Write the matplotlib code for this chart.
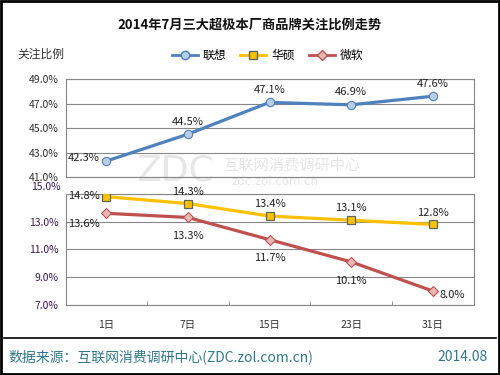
import matplotlib
matplotlib.use("Agg")
import matplotlib.pyplot as plt
from matplotlib.lines import Line2D
from matplotlib.patches import Rectangle

plt.rcParams['font.family'] = ['Noto Sans CJK SC', 'DejaVu Sans']

days = ["1日", "7日", "15日", "23日", "31日"]
lenovo = [42.3, 44.5, 47.1, 46.9, 47.6]
asus = [14.8, 14.3, 13.4, 13.1, 12.8]
microsoft = [13.6, 13.3, 11.7, 10.1, 8.0]
top_ticks = [41, 43, 45, 47, 49]
bottom_ticks = [7, 9, 11, 13, 15]

fig = plt.figure(figsize=(5, 3.75), dpi=100)
fig.patches.append(Rectangle((0.002, 0.003), 0.996, 0.994, transform=fig.transFigure,
                             fill=False, edgecolor='black', linewidth=2))

x = list(range(len(days)))
grid_c = '#868686'
txt_c = '#222222'

ax1 = fig.add_axes([0.131, 0.528, 0.816, 0.261])
ax2 = fig.add_axes([0.131, 0.187, 0.816, 0.296])

for ax, ticks in ((ax1, top_ticks), (ax2, bottom_ticks)):
    ax.set_facecolor('none')
    ax.set_xlim(-0.5, 4.5)
    ax.set_ylim(ticks[0], ticks[-1])
    ax.set_yticks(ticks)
    ax.set_yticklabels([f"{t:.1f}%" for t in ticks])
    ax.tick_params(axis='y', length=0, labelsize=7.5, pad=5)
    for t in ticks:
        ax.axhline(t, color=grid_c, linewidth=0.8, zorder=0)
    for s in ax.spines.values():
        s.set_color(grid_c)
        s.set_linewidth(0.8)

ax1.set_xticks([])
for lab in ax1.get_yticklabels():
    lab.set_color('#333333')

# 15.0% label sits a little higher than its gridline, as in the source
labels2 = [f"{t:.1f}%" for t in bottom_ticks]
labels2[-1] = ""
ax2.set_yticklabels(labels2)
for lab in ax2.get_yticklabels():
    lab.set_color('#3b1d4f')
ax2.annotate(f"{bottom_ticks[-1]:.1f}%", xy=(0, bottom_ticks[-1]),
             xycoords=('axes fraction', 'data'), xytext=(-3.6, 4.6),
             textcoords='offset points', ha='right', va='center', fontsize=7.5,
             color='#3b1d4f')

ax2.set_xticks([i + 0.5 for i in range(4)], minor=True)
ax2.set_xticks(x)
ax2.set_xticklabels(days, fontsize=7.5, color='#333333')
ax2.tick_params(axis='x', which='major', length=0, pad=11)
ax2.tick_params(axis='x', which='minor', length=3, direction='in', color=grid_c)

ax1.plot(x, lenovo, color='#4f81bd', linewidth=2.3, marker='o', markersize=6,
         markerfacecolor='#b9cde5', markeredgecolor='#4f81bd', markeredgewidth=0.8, zorder=3)
ax2.plot(x, asus, color='#ffc000', linewidth=2.3, marker='s', markersize=5.5,
         markerfacecolor='#ffc000', markeredgecolor='#5a6a5a', markeredgewidth=0.9, zorder=3)
ax2.plot(x, microsoft, color='#c0504d', linewidth=2.3, marker='D', markersize=5.5,
         markerfacecolor='#e6b9b8', markeredgecolor='#c0504d', markeredgewidth=0.8, zorder=3)

fs = 8
for i, v in enumerate(lenovo):
    if i == 0:
        ax1.annotate(f"{v}%", (i, v), xytext=(-4.5, 2), textcoords='offset points',
                     ha='right', va='center', fontsize=fs, color=txt_c)
    else:
        ax1.annotate(f"{v}%", (i, v), xytext=(0, 9), textcoords='offset points',
                     ha='center', va='center', fontsize=fs, color=txt_c)
for i, v in enumerate(asus):
    if i == 0:
        ax2.annotate(f"{v}%", (i, v), xytext=(-4.5, 0.5), textcoords='offset points',
                     ha='right', va='center', fontsize=fs, color=txt_c)
    else:
        ax2.annotate(f"{v}%", (i, v), xytext=(0, 8.5), textcoords='offset points',
                     ha='center', va='center', fontsize=fs, color=txt_c)
for i, v in enumerate(microsoft):
    if i == 0:
        ax2.annotate(f"{v}%", (i, v), xytext=(-4.5, -8), textcoords='offset points',
                     ha='right', va='center', fontsize=fs, color=txt_c)
    elif i == len(microsoft) - 1:
        ax2.annotate(f"{v}%", (i, v), xytext=(5, -3), textcoords='offset points',
                     ha='left', va='center', fontsize=fs, color=txt_c)
    else:
        ax2.annotate(f"{v}%", (i, v), xytext=(0, -13.5), textcoords='offset points',
                     ha='center', va='center', fontsize=fs, color=txt_c)

# faint watermark behind the plot
wm = '#e6e6e6'
fig.text(0.35, 0.544, "ZDC", fontsize=26, color=wm, ha='center', va='center',
         family='DejaVu Sans', zorder=-1)
fig.text(0.584, 0.56, "互联网消费调研中心", fontsize=11, color=wm, ha='center',
         va='center', zorder=-1)
fig.text(0.55, 0.517, "zdc.zol.com.cn", fontsize=8.5, color=wm, ha='center',
         va='center', zorder=-1, family='DejaVu Sans')

fig.text(0.5, 0.935, "2014年7月三大超极本厂商品牌关注比例走势", fontsize=9.5,
         fontweight='bold', ha='center', va='center', color='#111111')
fig.text(0.034, 0.855, "关注比例", fontsize=8.5, ha='left', va='center', color='#333333')

handles = [
    Line2D([], [], color='#4f81bd', linewidth=2, marker='o', markersize=6,
           markerfacecolor='#b9cde5', markeredgecolor='#4f81bd'),
    Line2D([], [], color='#ffc000', linewidth=2, marker='s', markersize=5.5,
           markerfacecolor='#ffc000', markeredgecolor='#5a6a5a'),
    Line2D([], [], color='#c0504d', linewidth=2, marker='D', markersize=5,
           markerfacecolor='#e6b9b8', markeredgecolor='#c0504d'),
]
fig.legend(handles, ["联想", "华硕", "微软"], loc='center', bbox_to_anchor=(0.535, 0.852),
           ncol=3, frameon=False, fontsize=8.5, handlelength=2.2, columnspacing=1.2,
           handletextpad=0.4)

fig.add_artist(Line2D([0.008, 0.992], [0.099, 0.099], transform=fig.transFigure,
                      color='black', linewidth=1.2))
fig.text(0.016, 0.048, "数据来源：互联网消费调研中心(ZDC.zol.com.cn)", fontsize=10,
         ha='left', va='center', color='#31788a')
fig.text(0.976, 0.048, "2014.08", fontsize=10, ha='right', va='center', color='#31788a')

fig.savefig("out.png", dpi=100)
